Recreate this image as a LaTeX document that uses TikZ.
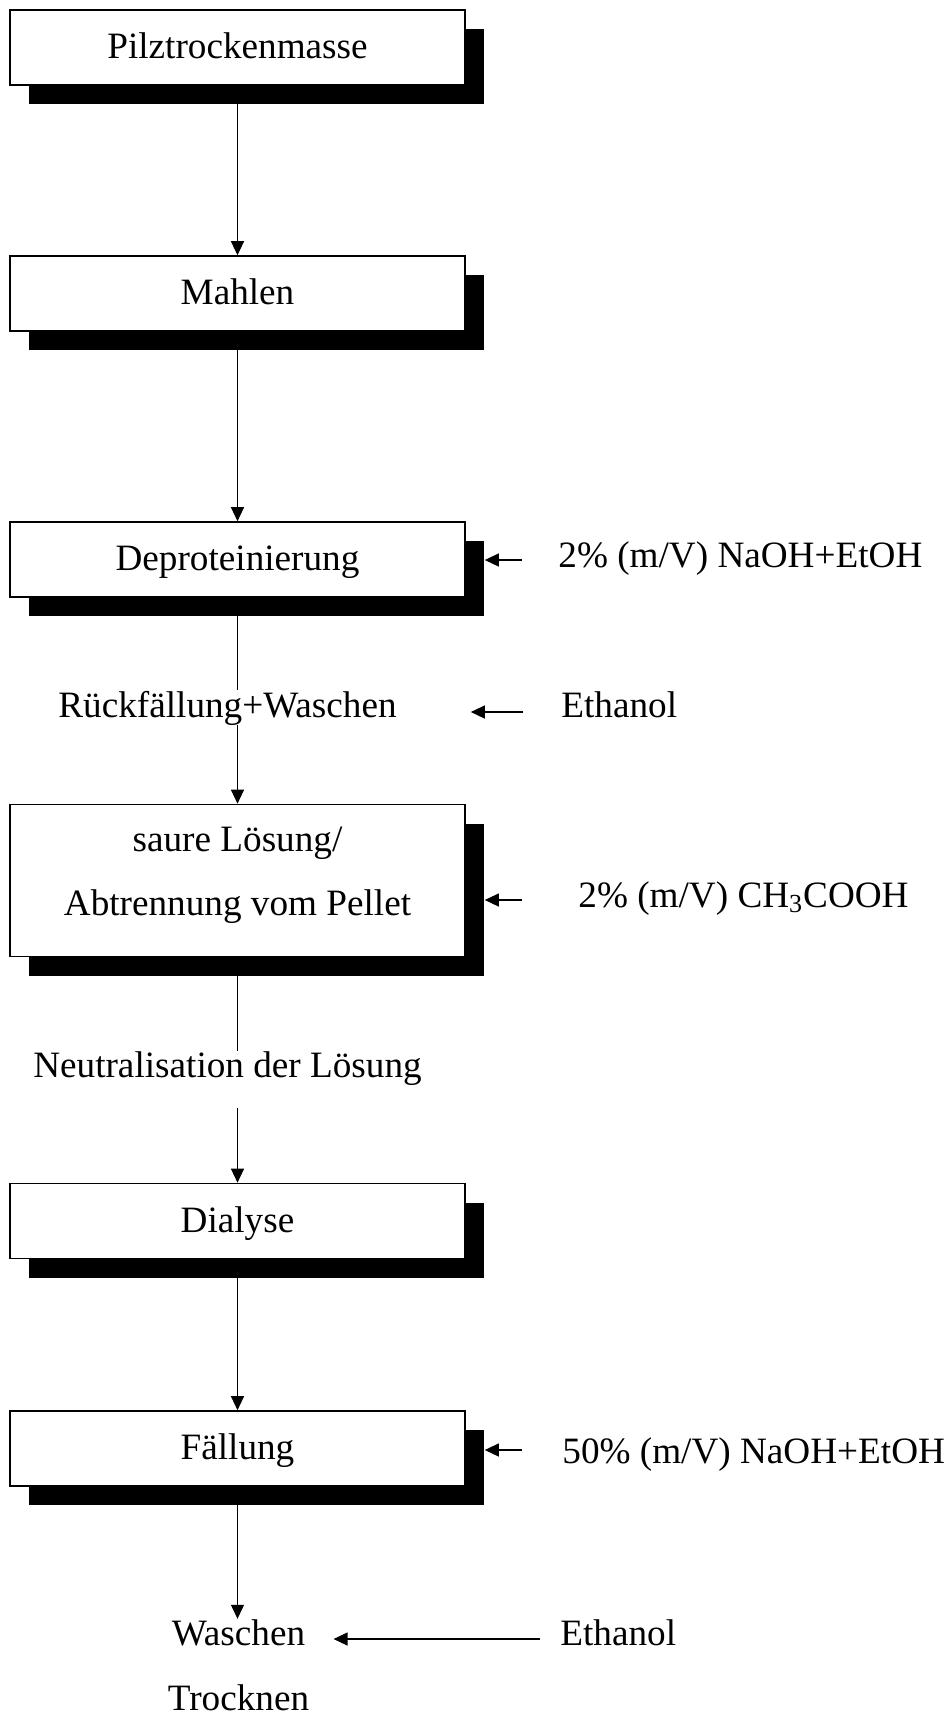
\documentclass[tikz,border=0pt]{standalone}
\usepackage{fontspec}
\setmainfont{Liberation Serif}
\usetikzlibrary{positioning,shadows,arrows.meta,calc}

\begin{document}
\begin{tikzpicture}[
    x=0.5pt, y=-0.5pt,
    every node/.style={font=\fontsize{18.6}{32}\selectfont},
    stage/.style={draw, line width=0.8pt, fill=white, align=center, inner sep=0pt,
        minimum width=227.5pt, minimum height=37.5pt,
        drop shadow={shadow xshift=9.5pt, shadow yshift=-9.5pt, fill=black, opacity=1}},
    onerow/.style={stage, text height=13pt, text depth=2pt},
    note/.style={inner sep=0pt, anchor=base},
    flow/.style={line width=0.6pt},
    feed/.style={flow, -{Triangle[length=7pt,width=6.5pt]}}
]
\useasboundingbox (0,0) rectangle (948,1715);

% process steps
\node[onerow] (pilz) at (237.5,47.5) {Pilztrockenmasse};
\node[onerow] (mahlen) at (237.5,293.5) {Mahlen};
\node[onerow] (deprot) at (237.5,559.5) {Deproteinierung};
\node[stage, minimum height=76pt] (sauer) at (237.5,880.5)
    {saure Lösung/\\Abtrennung vom Pellet\rule[-9.5pt]{0pt}{0pt}};
\node[onerow] (dialyse) at (237.5,1221) {Dialyse};
\node[onerow] (faellung) at (237.5,1448.5) {Fällung};

% intermediate steps
\node[note] (rueck) at (227.5,717) {Rückfällung+Waschen};
\node[note] (neutral) at (227.5,1077) {Neutralisation der Lösung};
\node[note] (waschen) at (238.5,1645) {Waschen};
\node[note] (trocknen) at (238.5,1710) {Trocknen};

% reagents
\node[note, anchor=base west] (naoh) at (558,567) {2\% (m/V) NaOH+EtOH};
\node[note, anchor=base west] (ethanolA) at (561,717) {Ethanol};
\node[note, anchor=base west] (essig) at (578,907) {2\% (m/V) CH\textsubscript{3}COOH};
\node[note, anchor=base west] (naohB) at (562,1463) {50\% (m/V) NaOH+EtOH};
\node[note, anchor=base west] (ethanolB) at (560,1645) {Ethanol};

% main flow
\draw[feed] (pilz) -- (mahlen);
\draw[feed] (mahlen) -- (deprot);
\draw[flow] (deprot.south) -- (deprot.south |- rueck.north);
\draw[feed] (sauer.north |- rueck.south) -- (sauer.north);
\draw[flow] (sauer.south) -- (sauer.south |- neutral.north);
\draw[feed] ($(dialyse.north |- neutral.south)+(0,23)$) -- (dialyse.north);
\draw[feed] (dialyse) -- (faellung);
\draw[feed] (faellung.south) -- (faellung.south |- waschen.north);

% reagent inputs
\draw[feed] ($(naoh.base west)+(-36,-7)$) -- ($(deprot.east |- naoh.base west)+(19,-7)$);
\draw[feed] ($(ethanolA.base west)+(-38,-5)$) -- ($(deprot.east |- ethanolA.base west)+(5,-5)$);
\draw[feed] ($(essig.base west)+(-56,-7)$) -- ($(sauer.east |- essig.base west)+(19,-7)$);
\draw[feed] ($(naohB.base west)+(-40,-13)$) -- ($(faellung.east |- naohB.base west)+(19,-13)$);
\draw[feed] ($(ethanolB.base west)+(-20,-6)$) -- ($(waschen.base east)+(28,-6)$);
\end{tikzpicture}
\end{document}
